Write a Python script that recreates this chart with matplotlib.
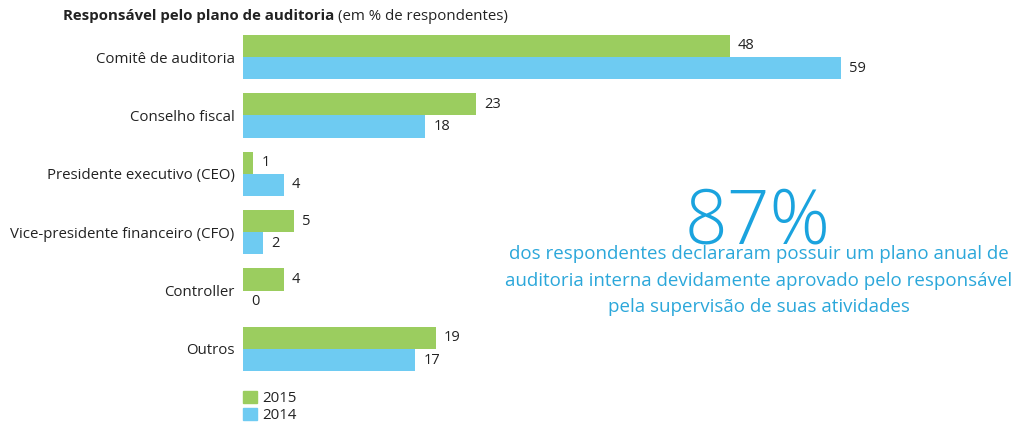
import matplotlib
matplotlib.use("Agg")
import matplotlib.pyplot as plt
import numpy as np
from matplotlib.patches import Patch

plt.rcParams["font.family"] = ["Open Sans", "DejaVu Sans"]

categories = ["Comitê de auditoria", "Conselho fiscal", "Presidente executivo (CEO)",
              "Vice-presidente financeiro (CFO)", "Controller", "Outros"]
vals_2015 = [48, 23, 1, 5, 4, 19]
vals_2014 = [59, 18, 4, 2, 0, 17]
note_lines = ["dos respondentes declararam possuir um plano anual de",
              "auditoria interna devidamente aprovado pelo responsável",
              "pela supervisão de suas atividades"]

GREEN = "#9bcd5f"
BLUE = "#6ecbf2"
TEXT = "#222222"
HILITE = "#1aa3de"
NOTE = "#2ba7da"

fig = plt.figure(figsize=(10.24, 4.32), dpi=100)
ax = fig.add_axes([243 / 1024, 60 / 432, 598 / 1024, 337 / 432])

y = np.arange(len(categories))
h = 0.38
ax.barh(y - h / 2, vals_2015, height=h, color=GREEN)
ax.barh(y + h / 2, vals_2014, height=h, color=BLUE)

for yi, v in zip(y, vals_2015):
    ax.text(v + 0.8, yi - h / 2, str(v), va="center", ha="left", fontsize=10.5, color=TEXT)
for yi, v in zip(y, vals_2014):
    ax.text(v + 0.8, yi + h / 2, str(v), va="center", ha="left", fontsize=10.5, color=TEXT)

ax.set_xlim(0, 59)
ax.set_ylim(5 + 23 / 58.4, -22 / 58.4)
ax.set_yticks(y)
ax.set_yticklabels(categories, fontsize=10.8, color=TEXT)
ax.tick_params(axis="y", length=0, pad=6)
ax.set_xticks([])
for s in ax.spines.values():
    s.set_visible(False)

# title: bold part + regular part
t1 = fig.text(63 / 1024, 1 - 16 / 432, "Responsável pelo plano de auditoria",
              fontsize=10.8, fontweight="bold", color=TEXT, va="center")
fig.canvas.draw()
bb = t1.get_window_extent()
fig.text(bb.x1 / 1024 + 0.004, 1 - 16 / 432, "(em % de respondentes)",
         fontsize=10.8, color=TEXT, va="center")

fig.legend(handles=[Patch(color=GREEN, label="2015"), Patch(color=BLUE, label="2014")],
           loc="upper left", bbox_to_anchor=(235 / 1024, 1 - 383 / 432), frameon=False,
           fontsize=10.8, handlelength=0.95, handleheight=0.9, handletextpad=0.35,
           labelspacing=0.12, borderpad=0, labelcolor=TEXT)

fig.text(758 / 1024, 1 - 243 / 432, "87%", fontsize=54, fontweight="light",
         color=HILITE, ha="center", va="baseline")
for i, line in enumerate(note_lines):
    fig.text(759 / 1024, 1 - (254 + 26.5 * i) / 432, line,
             fontsize=13.5, color=NOTE, ha="center", va="center")

fig.savefig("out.png", dpi=100)
